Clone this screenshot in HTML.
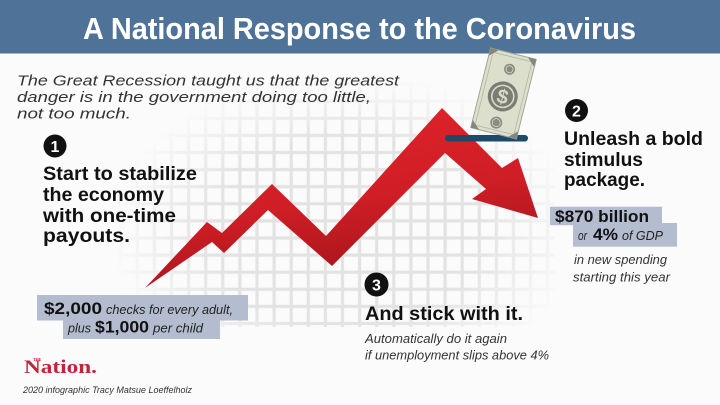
<!DOCTYPE html>
<html>
<head>
<meta charset="utf-8">
<style>
  html,body{margin:0;padding:0;background:#fbfbfb;}
  svg{display:block;}
</style>
</head>
<body>
<svg width="720" height="405" viewBox="0 0 720 405" xmlns="http://www.w3.org/2000/svg" font-family="Liberation Sans, sans-serif">
  <defs>
    <pattern id="grid" x="154.4" y="67" width="17.1" height="17.1" patternUnits="userSpaceOnUse">
      <rect x="-1.6" y="0" width="3.2" height="17.1" fill="#e2e2e2"/>
      <rect x="15.5" y="0" width="3.2" height="17.1" fill="#e2e2e2"/>
      <rect x="0" y="-1.6" width="17.1" height="3.2" fill="#e2e2e2"/>
      <rect x="0" y="15.5" width="17.1" height="3.2" fill="#e2e2e2"/>
    </pattern>
    <radialGradient id="fade" cx="0.52" cy="0.6" r="0.5">
      <stop offset="0" stop-color="#fff" stop-opacity="1"/>
      <stop offset="0.6" stop-color="#fff" stop-opacity="0.95"/>
      <stop offset="1" stop-color="#fff" stop-opacity="0"/>
    </radialGradient>
    <mask id="gm">
      <rect x="100" y="40" width="470" height="320" fill="url(#fade)"/>
    </mask>
    <linearGradient id="red" x1="0" y1="0" x2="0.3" y2="1">
      <stop offset="0" stop-color="#e3232b"/>
      <stop offset="0.6" stop-color="#d01e26"/>
      <stop offset="1" stop-color="#a8151c"/>
    </linearGradient>
  </defs>

  <!-- background -->
  <rect x="0" y="0" width="720" height="405" fill="#fbfbfb"/>

  <!-- grid -->
  <g mask="url(#gm)">
    <rect x="115" y="60" width="440" height="267" fill="url(#grid)"/>
  </g>

  <!-- header -->
  <rect x="0" y="0" width="720" height="53.5" fill="#4f7298"/>
  <text x="83" y="39" font-size="31" font-weight="bold" fill="#ffffff" textLength="553" lengthAdjust="spacingAndGlyphs">A National Response to the Coronavirus</text>

  <!-- intro -->
  <g font-style="italic" font-size="15" fill="#333">
    <text x="17" y="85.5" textLength="382" lengthAdjust="spacingAndGlyphs">The Great Recession taught us that the greatest</text>
    <text x="17" y="101.8" textLength="354" lengthAdjust="spacingAndGlyphs">danger is in the government doing too little,</text>
    <text x="17" y="118.3" textLength="114" lengthAdjust="spacingAndGlyphs">not too much.</text>
  </g>

  <!-- red arrow -->
  <polygon fill="url(#red)" points="145,288 207,222 222,233 272,184 326,236 442,108 502,168 518,158 538,218 472,199 486,189 445,153 332,266 268,210 224,253 212,242"/>

  <!-- slot bar -->
  <rect x="445" y="135" width="83" height="6.5" rx="3.2" fill="#1e4a6a"/>

  <!-- money bill -->
  <g transform="translate(503.5,93.5) rotate(14)">
    <rect x="-23.5" y="-41" width="47" height="82" fill="#dcdfcb" stroke="#a4a696" stroke-width="1"/>
    <rect x="-20" y="-37.5" width="40" height="75" fill="none" stroke="#b3b5a3" stroke-width="0.8"/>
    <polygon points="-23.5,-41 -15,-41 -23.5,-33" fill="#85877b"/>
    <polygon points="23.5,-41 15,-41 23.5,-33" fill="#85877b"/>
    <polygon points="-23.5,41 -15,41 -23.5,33" fill="#85877b"/>
    <polygon points="23.5,41 15,41 23.5,33" fill="#85877b"/>
    <circle cx="0" cy="3" r="15" fill="#7b7c74"/>
    <circle cx="0" cy="3" r="11" fill="none" stroke="#d8dac8" stroke-width="1.6"/>
    <text x="0" y="10" font-size="20" font-weight="bold" fill="#d8dac8" text-anchor="middle">$</text>
    <circle cx="0" cy="-25" r="5.5" fill="#8a8b82"/>
    <circle cx="0" cy="-25" r="3.5" fill="none" stroke="#d8dac8" stroke-width="0.8"/>
    <circle cx="0" cy="30" r="6" fill="#8a8b82"/>
    <circle cx="0" cy="30" r="4" fill="none" stroke="#d8dac8" stroke-width="0.8"/>
  </g>

  <!-- step 1 -->
  <circle cx="55" cy="146" r="11.5" fill="#111"/>
  <text x="55" y="152" font-size="16" font-weight="bold" fill="#fff" text-anchor="middle">1</text>
  <g font-size="19.5" font-weight="bold" fill="#111">
    <text x="43" y="180" textLength="154" lengthAdjust="spacingAndGlyphs">Start to stabilize</text>
    <text x="43" y="201" textLength="121" lengthAdjust="spacingAndGlyphs">the economy</text>
    <text x="43" y="222" textLength="133" lengthAdjust="spacingAndGlyphs">with one-time</text>
    <text x="43" y="242" textLength="87" lengthAdjust="spacingAndGlyphs">payouts.</text>
  </g>

  <!-- left boxes -->
  <rect x="37" y="295" width="211" height="25.5" fill="#b3bdcf"/>
  <rect x="63" y="320" width="157" height="19" fill="#b3bdcf"/>
  <text x="44" y="314" font-size="16.5" font-weight="bold" fill="#111" textLength="58" lengthAdjust="spacingAndGlyphs">$2,000</text>
  <text x="106" y="314" font-size="12.5" font-style="italic" fill="#222" textLength="127" lengthAdjust="spacingAndGlyphs">checks for every adult,</text>
  <text x="68" y="332.5" font-size="12.5" font-style="italic" fill="#222" textLength="23" lengthAdjust="spacingAndGlyphs">plus</text>
  <text x="95" y="332.5" font-size="16.5" font-weight="bold" fill="#111" textLength="54" lengthAdjust="spacingAndGlyphs">$1,000</text>
  <text x="153" y="332.5" font-size="12.5" font-style="italic" fill="#222" textLength="50" lengthAdjust="spacingAndGlyphs">per child</text>

  <!-- step 2 -->
  <circle cx="576.5" cy="110.5" r="11.5" fill="#111"/>
  <text x="576.5" y="116.5" font-size="16" font-weight="bold" fill="#fff" text-anchor="middle">2</text>
  <g font-size="19.5" font-weight="bold" fill="#111">
    <text x="564" y="145" textLength="139" lengthAdjust="spacingAndGlyphs">Unleash a bold</text>
    <text x="564" y="166" textLength="79" lengthAdjust="spacingAndGlyphs">stimulus</text>
    <text x="564" y="186" textLength="81" lengthAdjust="spacingAndGlyphs">package.</text>
  </g>
  <rect x="550" y="206.7" width="112" height="18.5" fill="#b3bdcf"/>
  <rect x="573" y="223" width="104" height="23.7" fill="#b3bdcf"/>
  <text x="555" y="222" font-size="16.5" font-weight="bold" fill="#111" textLength="94" lengthAdjust="spacingAndGlyphs">$870 billion</text>
  <text x="578" y="240" font-size="12.5" font-style="italic" fill="#222" textLength="9" lengthAdjust="spacingAndGlyphs">or</text>
  <text x="593" y="240" font-size="16.5" font-weight="bold" fill="#111" textLength="25" lengthAdjust="spacingAndGlyphs">4%</text>
  <text x="622" y="240" font-size="12.5" font-style="italic" fill="#222" textLength="41" lengthAdjust="spacingAndGlyphs">of GDP</text>
  <g font-size="12.5" font-style="italic" fill="#333">
    <text x="574" y="264" textLength="93" lengthAdjust="spacingAndGlyphs">in new spending</text>
    <text x="573" y="281.5" textLength="97" lengthAdjust="spacingAndGlyphs">starting this year</text>
  </g>

  <!-- step 3 -->
  <circle cx="376.5" cy="284.5" r="12" fill="#111"/>
  <text x="376.5" y="290.5" font-size="16" font-weight="bold" fill="#fff" text-anchor="middle">3</text>
  <text x="365" y="320" font-size="19.5" font-weight="bold" fill="#111" textLength="158" lengthAdjust="spacingAndGlyphs">And stick with it.</text>
  <g font-size="12.5" font-style="italic" fill="#333">
    <text x="365" y="343" textLength="142" lengthAdjust="spacingAndGlyphs">Automatically do it again</text>
    <text x="365" y="359.5" textLength="184" lengthAdjust="spacingAndGlyphs">if unemployment slips above 4%</text>
  </g>

  <!-- logo -->
  <text x="24" y="373" font-family="Liberation Serif, serif" font-size="19" font-weight="bold" fill="#c3243a" textLength="73" lengthAdjust="spacingAndGlyphs">Nation.</text>
  <text x="33" y="361" font-family="Liberation Serif, serif" font-size="4" font-weight="bold" fill="#c3243a">THE</text>

  <!-- credit -->
  <text x="23" y="393" font-size="9.5" font-style="italic" fill="#333" textLength="169" lengthAdjust="spacingAndGlyphs">2020 infographic Tracy Matsue Loeffelholz</text>
</svg>
</body>
</html>
